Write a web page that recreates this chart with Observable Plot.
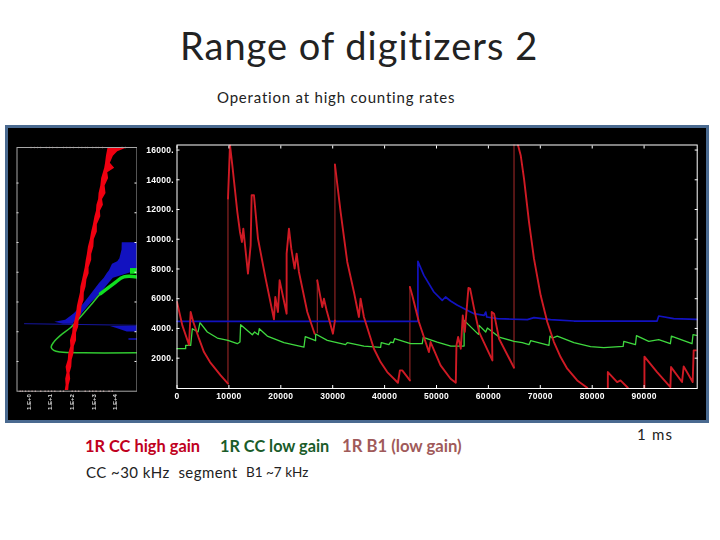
<!DOCTYPE html>
<html><head><meta charset="utf-8">
<script src="https://cdn.jsdelivr.net/npm/d3@7"></script>
<script src="https://cdn.jsdelivr.net/npm/@observablehq/plot@0.6"></script>
<style>
html,body{margin:0;background:#fff}
#page{position:relative;width:720px;height:540px;overflow:hidden;font-family:Lato,"Open Sans",sans-serif}
.t{position:absolute;white-space:nowrap;line-height:1}
#panel{position:absolute;left:5px;top:125px;background:#000;border:3px solid #4a6a90;box-sizing:content-box;width:698px;height:292px}
#scatter,#trace{position:absolute}
#scatter svg,#trace svg{background:transparent;display:block;filter:blur(.35px)}
</style></head><body>
<div id="page">
<div class="t" style="left:180px;top:26px;font-size:38px;letter-spacing:1px;color:#222">Range of digitizers 2</div>
<div class="t" style="left:217px;top:90px;font-size:15px;letter-spacing:.8px;color:#222">Operation at high counting rates</div>
<div id="panel"></div>
<div id="scatter" style="left:0;top:130px"></div>
<div id="trace" style="left:136px;top:130px"></div>
<div class="t" style="left:85px;top:438px;font-size:16.4px;font-weight:700;color:#c00020">1R CC high gain</div>
<div class="t" style="left:220px;top:438px;font-size:16.3px;font-weight:700;color:#1a5c2a">1R CC low gain</div>
<div class="t" style="left:342px;top:438px;font-size:16.7px;font-weight:700;color:#a05a5a">1R B1 (low gain)</div>
<div class="t" style="left:86px;top:465px;font-size:15px;letter-spacing:.45px;color:#222">CC ~30 kHz&nbsp; segment</div>
<div class="t" style="left:246px;top:466px;font-size:13.5px;color:#222">B1 ~7 kHz</div>
<div class="t" style="left:637px;top:427px;font-size:15px;letter-spacing:1.2px;color:#222">1 ms</div>
</div>
<script>
// Time traces: [time, counts], null counts break the line
const redTrace=[[0,5778],[1027,4207],[2311,2906],[2632,5105],[3146,4432],[4237,3310],[5200,2412],[6356,1739],[8410,841],[9823,280],[9823,null],
[9823,12735],[10208,16325],[10657,14979],[11620,11837],[12134,10491],[12519,9818],[12776,10716],[13675,7686],[14188,9593],[14381,12960],[14830,12960],[15601,10042],[17077,7349],[18682,4611],[18939,6115],[19453,5105],[19774,7237],[21122,4993],[21122,9032],[21571,10715],[22021,9369],[22663,8022],[23048,9032],[23497,7798],[25102,5105],[26515,3646],[26515,null],
[27028,7237],[27991,5442],[28312,6003],[28826,5218],[30046,3646],[30431,4544],[30431,null],
[30431,15024],[31522,11837],[32806,8471],[34090,6451],[35053,4768],[35374,6003],[36016,4768],[37942,2637],[39226,1739],[40510,1066],[42565,348],[42950,1178],[43399,1178],[44876,505],[44876,null],
[44876,6788],[45325,6227],[46609,4432],[48535,2412],[48856,3085],[50782,1515],[52708,617],[53718,348],[53846,2861],[54167,3422],[54680,2637],[55064,4880],[55449,3758],[56154,6721],[56474,6676],[57244,5330],[58205,3758],[60769,1851],[60641,5105],[61090,4993],[62051,3310],[64936,1357],[64936,null],
[65705,16325],[66218,15652],[66859,14080],[67820,11164],[68782,8696],[70064,6227],[71346,4432],[72628,3085],[73910,2076],[75192,1290],[77115,505],[79038,10],[79038,null],
[83013,10],[83013,1066],[84807,393],[85448,505],[86858,10],[86858,null],
[90064,10],[90064,2098],[92500,1066],[95064,56],[95192,1402],[97308,393],[97628,1447],[99359,393],[99551,2524],[100064,2524]];
// Faint vertical rises of the red trace: [time, from, to]
const redJumps=[[9823,280,12735],[27028,3646,7237],[30431,4544,15024],[44876,505,6788],[64936,1357,16340]];
const blueTrace=[[0,4477],[46417,4477],[46417,8516],[47572,7574],[49498,6451],[51103,5891],[51745,6115],[52708,5846],[54038,5554],[57244,4993],[59167,4881],[59487,5105],[59680,4768],[61731,4656],[67500,4589],[68782,4724],[71987,4589],[76474,4499],[92500,4499],[92820,4836],[95705,4656],[100192,4611]];
const greenTrace=[[0,2637],[1669,2637],[1669,2861],[2632,2861],[2953,3983],[4045,3759],[4430,4387],[5842,3759],[7768,3355],[9823,3198],[11620,2973],[12134,3085],[12262,4252],[14509,3579],[14959,3759],[15665,3579],[15857,3983],[17398,3489],[20608,3041],[24460,2749],[24717,3445],[26707,3175],[26707,3624],[28954,3198],[32485,2906],[32806,3041],[36016,2816],[39226,2726],[39355,3041],[40831,2906],[41152,3085],[41666,3041],[41923,3310],[45004,2973],[47251,2973],[47444,3400],[50140,3085],[52757,2816],[55321,2816],[55321,4544],[58077,3602],[58205,4208],[59487,3759],[59808,4028],[62051,3422],[64936,3130],[66538,3041],[67820,2906],[68141,3175],[71666,2861],[71859,3489],[72308,3355],[73269,3489],[76474,3041],[79679,2771],[82243,2704],[85961,2794],[86089,3130],[88333,2906],[88525,3512],[90897,3130],[92820,3242],[95064,2973],[95256,3489],[99231,2973],[99423,3579],[100064,3534]];
const timeTicks=[0,10000,20000,30000,40000,50000,60000,70000,80000,90000];
const countTicks=[2000,4000,6000,8000,10000,12000,14000,16000];
// Band outlines of the left panel: [counts, low, high]
const redBand=[[45,2.68,2.84],[400,2.72,2.86],[800,2.7,2.93],[1200,2.76,2.9],[1618,2.72,2.98],[2100,2.82,3.0],[2500,2.84,3.08],[3000,2.94,3.1],[3400,2.92,3.2],[3900,3.02,3.2],[4314,3.05,3.3],[4800,3.14,3.32],[5200,3.2,3.42],[5700,3.24,3.45],[6100,3.3,3.55],[6600,3.38,3.56],[7010,3.4,3.64],[7500,3.48,3.68],[7900,3.54,3.78],[8300,3.6,3.78],[8808,3.65,3.9],[9200,3.7,3.9],[9700,3.75,4.0],[10200,3.84,4.02],[10700,3.9,4.16],[11200,3.98,4.16],[11729,4.05,4.32],[12100,4.12,4.3],[12500,4.14,4.44],[12900,4.22,4.4],[13302,4.24,4.56],[13800,4.32,4.52],[14300,4.36,4.68],[14700,4.44,4.64],[15000,4.5,4.96],[15325,4.54,4.76],[15800,4.58,4.9],[16100,4.62,5.1],[16336,4.65,5.5]];
const blueBand=[[4500,2.6,3.05],[4640,2.2,3.1],[4764,2.7,3.31],[5213,3.1,3.46],[5887,3.54,3.85],[6561,3.9,4.31],[7235,4.26,4.69],[7600,4.48,4.9],[7909,4.62,5.6],[8100,4.72,6],[8539,4.86,6],[8700,5.1,6],[8900,5.2,6],[9258,5.26,6],[9500,5.3,6],[9977,5.31,6]];
const blueLower=[[4359,4.77,6],[4200,5.1,6],[3977,5.54,6]];
const blueLine=[[0.8,4540],[6,4430]];
const blueShort=[[5.62,3505],[6,3505]];
const greenCurve=[[6,2584],[3.54,2584],[2.46,2629],[2.15,2741],[2.03,2966],[2.15,3303],[2.46,3752],[2.92,4269],[3.38,4988],[3.85,5775],[4.31,6561],[4.92,7235],[5.38,7685],[6,7685]];
const greenThick=[[4.31,6561],[4.92,7235],[5.38,7685],[6,7685]];
const greenBlob=[[7865,5.69,6],[8247,5.69,6]];
const edgeDotsTop=[1.1,1.25,1.4,1.55,1.8,1.95,2.1,2.3,2.6,2.75,2.9,3.05,3.3,3.45,3.6,3.7,3.95,4.1,4.2,4.4,5.3,5.45];
const edgeDotsBottom=[0.6,0.7,0.85,1,1.15,1.3,1.55,1.75,1.9,2.05,2.2,2.45,2.6,3.0,3.15,3.3,3.6,3.8,3.95,4.1,4.3,4.45,4.7,4.85];
const scatterTicks=[1,2,3,4,5];
const scatterTickLabels=["1.E+0","1.E+1","1.E+2","1.E+3","1.E+4"];

const RED="#cf1a24",BLUE="#1212c0",GREEN="#3fd83f",TICK={fontWeight:700};

const scatter=Plot.plot({
  width:137,height:280,marginLeft:16.5,marginRight:.5,marginTop:17,marginBottom:19.3,
  style:{background:"transparent",color:"#fff",fontFamily:"Liberation Sans",fontSize:"6px"},
  x:{domain:[.454,5.99],axis:null},
  y:{domain:[0,16390],axis:null},
  marks:[
    Plot.areaX(blueBand,{y:d=>d[0],x1:d=>d[1],x2:d=>d[2],fill:BLUE}),
    Plot.areaX(blueLower,{y:d=>d[0],x1:d=>d[1],x2:d=>d[2],fill:BLUE}),
    Plot.line(blueLine,{x:d=>d[0],y:d=>d[1],stroke:"#1616a0",strokeWidth:1}),
    Plot.line(blueShort,{x:d=>d[0],y:d=>d[1],stroke:BLUE,strokeWidth:1.5}),
    Plot.line(greenCurve,{x:d=>d[0],y:d=>d[1],stroke:"#30c830",strokeWidth:1.5,curve:"catmull-rom"}),
    Plot.line(greenThick,{x:d=>d[0],y:d=>d[1],stroke:"#10e020",strokeWidth:3.5,curve:"catmull-rom"}),
    Plot.areaX(greenBlob,{y:d=>d[0],x1:d=>d[1],x2:d=>d[2],fill:"#10e020"}),
    Plot.areaX(redBand,{y:d=>d[0],x1:d=>d[1],x2:d=>d[2],fill:"#f00010"}),
    Plot.dot(edgeDotsTop,{x:d=>d,y:16390,r:.7,fill:"#f0b0b0"}),
    Plot.dot(edgeDotsBottom,{x:d=>d,y:0,r:.8,fill:"#f0b0b0"}),
    Plot.tickY(countTicks.slice(0,7),{y:d=>d,stroke:"#fff",strokeWidth:1,insetRight:118}),
    Plot.tickY(countTicks.slice(0,7),{y:d=>d,stroke:"#fff",strokeWidth:1,insetLeft:118}),
    Plot.frame({stroke:"#a8a8a8",strokeWidth:1}),
    Plot.axisX(scatterTicks,{anchor:"bottom",tickSize:0,tickPadding:3,tickRotate:-90,
      tickFormat:(d,i)=>scatterTickLabels[i],fill:"#ddd",...TICK})
  ]
});
document.getElementById("scatter").append(scatter);

const trace=Plot.plot({
  width:567,height:280,marginLeft:40.5,marginRight:6.3,marginTop:14.5,marginBottom:22,
  style:{background:"transparent",color:"#fff",fontFamily:"Liberation Sans",fontSize:"8.5px",letterSpacing:".3px"},
  x:{domain:[0,100230]},
  y:{domain:[-40,16340]},
  marks:[
    Plot.ruleX(redJumps,{x:d=>d[0],y1:d=>d[1],y2:d=>d[2],stroke:"#a82a2a",strokeWidth:1}),
    Plot.line(greenTrace,{x:d=>d[0],y:d=>d[1],stroke:GREEN,strokeWidth:1.3}),
    Plot.line(blueTrace,{x:d=>d[0],y:d=>d[1],stroke:BLUE,strokeWidth:1.7}),
    Plot.line(redTrace,{x:d=>d[0],y:d=>d[1],stroke:RED,strokeWidth:1.9,clip:true}),
    Plot.frame({stroke:"#fff",strokeWidth:1}),
    Plot.axisX({ticks:timeTicks,anchor:"bottom",tickSize:-3,tickPadding:7,stroke:"#fff",fill:"#fff",tickFormat:d=>String(d),label:null,...TICK}),
    Plot.axisX({ticks:timeTicks,anchor:"top",tickSize:-3,text:null,label:null,stroke:"#fff"}),
    Plot.axisY({ticks:countTicks,anchor:"left",tickSize:-3,tickPadding:6,stroke:"#fff",fill:"#fff",tickFormat:d=>d+".",label:null,...TICK}),
    Plot.axisY({ticks:countTicks,anchor:"right",tickSize:-3,text:null,label:null,stroke:"#fff"})
  ]
});
document.getElementById("trace").append(trace);
</script>
</body></html>
